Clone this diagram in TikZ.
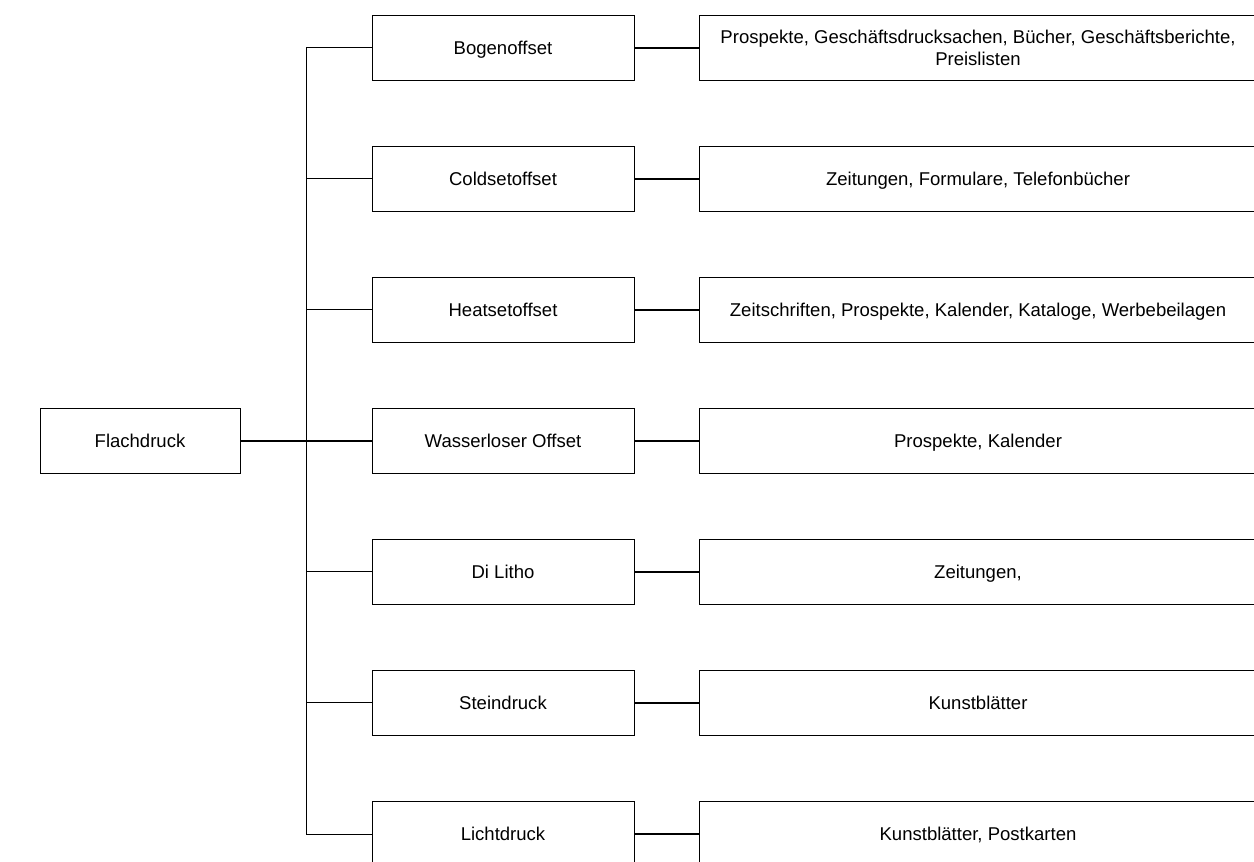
\documentclass[tikz,border=0pt]{standalone}
\usepackage{fontspec}
\setmainfont{Liberation Sans}
\begin{document}
\begin{tikzpicture}[x=0.75pt,y=-0.75pt,
  box/.style={draw,line width=0.75pt,rectangle,inner sep=2pt,align=center,font=\fontsize{13.9}{16.5}\selectfont},
  oneline/.style={text height=11.5pt,text depth=2pt},
  rootbox/.style={box,oneline,minimum width=150pt,minimum height=48.75pt},
  kindbox/.style={box,oneline,minimum width=196.5pt,minimum height=48.75pt},
  usebox/.style={box,minimum width=418.5pt,minimum height=48.75pt},
  link/.style={line width=0.75pt},
  trunk/.style={line width=1.3pt},
  uselink/.style={line width=1.1pt}]
\useasboundingbox (0,0) rectangle (1254,862);
\clip (0,0) rectangle (1254,862);

% root
\node[rootbox] (fl) at (140,441) {Flachdruck};

% printing methods
\node[kindbox] (k1) at (503,48)  {Bogenoffset};
\node[kindbox] (k2) at (503,179) {Coldsetoffset};
\node[kindbox] (k3) at (503,310) {Heatsetoffset};
\node[kindbox] (k4) at (503,441) {Wasserloser Offset};
\node[kindbox] (k5) at (503,572) {Di Litho};
\node[kindbox] (k6) at (503,703) {Steindruck};
\node[kindbox] (k7) at (503,834) {Lichtdruck};

% typical products
\node[usebox] (u1) at (978,48)  {Prospekte, Geschäftsdrucksachen, Bücher, Geschäftsberichte,\\Preislisten};
\node[usebox,oneline] (u2) at (978,179) {Zeitungen, Formulare, Telefonbücher};
\node[usebox,oneline] (u3) at (978,310) {Zeitschriften, Prospekte, Kalender, Kataloge, Werbebeilagen};
\node[usebox,oneline] (u4) at (978,441) {Prospekte, Kalender};
\node[usebox,oneline] (u5) at (978,572) {Zeitungen,};
\node[usebox,oneline] (u6) at (978,703) {Kunstblätter};
\node[usebox,oneline] (u7) at (978,834) {Kunstblätter, Postkarten};

% branching point of the tree
\coordinate (j) at ([xshift=66*0.75pt]fl.east);

% tree connectors
\foreach \k in {k1,k2,k3,k5,k6,k7}
  \draw[link] (j) |- (\k.west);
\draw[trunk] (fl.east) -- (k4.west);
\draw[trunk] (j |- k2.west) -- (j |- k6.west);

\foreach \k/\u in {k1/u1,k2/u2,k3/u3,k4/u4,k5/u5,k6/u6,k7/u7}
  \draw[uselink] (\k.east) -- (\u.west);
\end{tikzpicture}
\end{document}
